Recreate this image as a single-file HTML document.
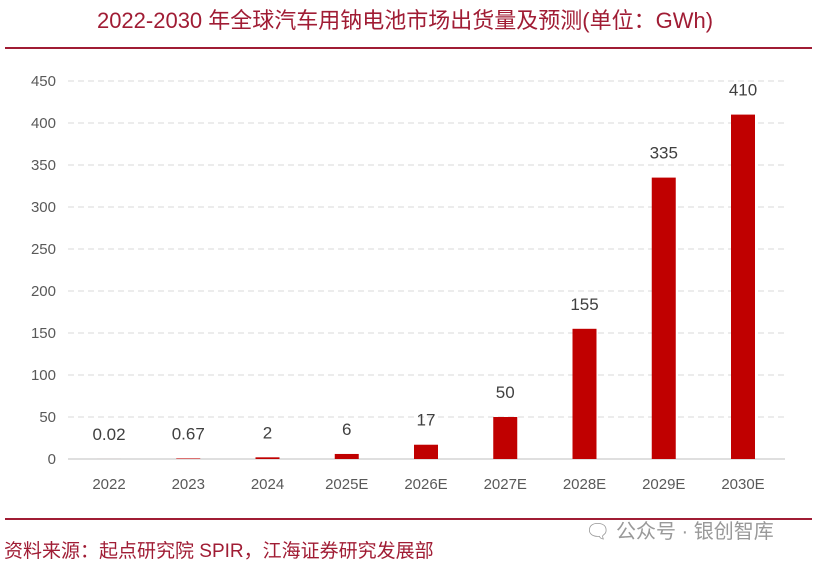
<!DOCTYPE html>
<html><head><meta charset="utf-8"><style>
html,body{margin:0;padding:0;background:#fff;width:816px;height:564px;overflow:hidden}
svg{display:block}
text{font-family:"Liberation Sans","Noto Sans CJK SC",sans-serif}
</style></head><body>
<svg id="chart" width="816" height="564">
<text x="405" y="28" text-anchor="middle" font-size="22" fill="#a01c34">2022-2030 年全球汽车用钠电池市场出货量及预测(单位：GWh)</text>
<line x1="5" y1="48" x2="812" y2="48" stroke="#a01c34" stroke-width="2"/>
<g id="grid"></g><g id="bars"></g><g id="labels"></g>
<line x1="5" y1="519" x2="812" y2="519" stroke="#a01c34" stroke-width="2"/>
<text x="4" y="557" font-size="19" fill="#a01c34">资料来源：起点研究院 SPIR，江海证券研究发展部</text>
<text x="585" y="538" font-size="20" fill="#999">🗨 公众号 · 银创智库</text>
</svg>
<script>
const categories=["2022","2023","2024","2025E","2026E","2027E","2028E","2029E","2030E"];
const values=[0.02,0.67,2,6,17,50,155,335,410];
const valueLabels=["0.02","0.67","2","6","17","50","155","335","410"];
const ticks=[0,50,100,150,200,250,300,350,400,450];
const NS="http://www.w3.org/2000/svg";
const y0=459,y450=81,x0=109,step=79.25,bw=24;
const yS=v=>y0-(v/450)*(y0-y450);
const xS=i=>x0+i*step;
function mk(t,a,p){const e=document.createElementNS(NS,t);for(const k in a)e.setAttribute(k,a[k]);p.appendChild(e);return e;}
const g=document.getElementById('grid'),b=document.getElementById('bars'),l=document.getElementById('labels');
ticks.forEach(t=>{
 const ln=mk('line',{x1:68,x2:785,y1:yS(t),y2:yS(t),stroke:t===0?'#bfbfbf':'#d9d9d9','stroke-width':1,'stroke-dasharray':t===0?'none':'6,4'},g);
 
 
 const tx=mk('text',{x:56,y:yS(t)+5,'text-anchor':'end','font-size':15,fill:'#595959'},g);
 tx.textContent=t;
 
 
});
categories.forEach((c,i)=>{
 const v=values[i];
 const r=mk('rect',{x:xS(i)-bw/2,y:yS(v),width:bw,height:y0-yS(v),fill:'#c00000'},b);
 
 
 const vl=mk('text',{x:xS(i),y:yS(v)-19,'text-anchor':'middle','font-size':17,fill:'#404040'},l);
 vl.textContent=valueLabels[i];
 
 
 const xl=mk('text',{x:xS(i),y:489,'text-anchor':'middle','font-size':15,fill:'#595959'},l);
 xl.textContent=c;
 
 
});
</script>
</body></html>
